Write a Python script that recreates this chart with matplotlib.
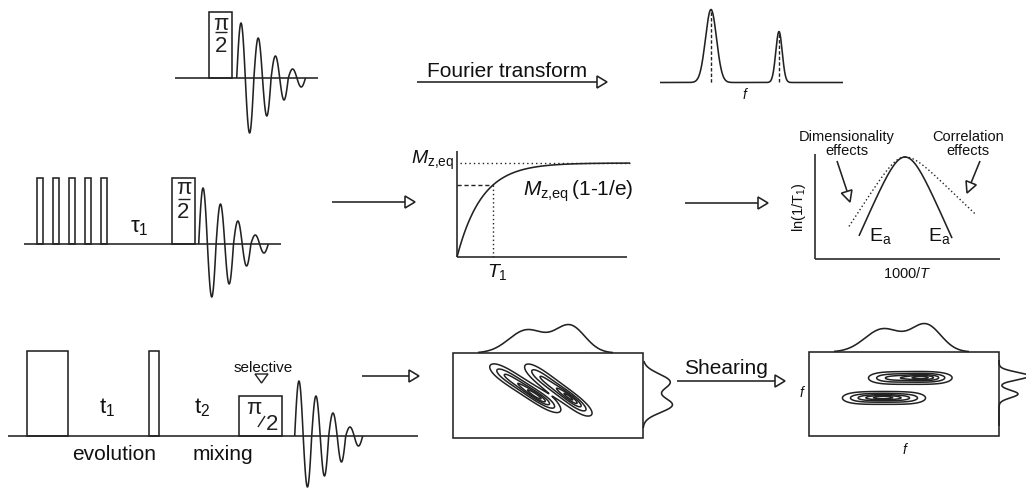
import matplotlib.pyplot as plt
import numpy as np
from matplotlib.patches import Rectangle, Polygon

plt.rcParams['font.family'] = ['Liberation Sans', 'DejaVu Sans']
plt.rcParams['mathtext.fontset'] = 'custom'
plt.rcParams['mathtext.rm'] = 'Liberation Sans'
plt.rcParams['mathtext.it'] = 'Liberation Sans:italic'
plt.rcParams['mathtext.bf'] = 'Liberation Sans:bold'

INK = '#222222'
LW = 1.15

# --- FID half-cycle amplitudes (px) for the three pulse sequences ---
fid_lobes_top = [55, 55, 40, 38, 22, 22, 9, 9]
fid_lobes_t1 = [56, 53, 40, 40, 23, 22, 9, 9]
fid_lobes_2d = [55, 51, 40, 40, 23, 26, 9, 10]
saturation_pulses_x = [37, 53, 69, 85, 101]

# --- 1D spectrum after Fourier transform ---
peak_pos = [711, 779]
peak_height = [73, 51]
peak_width = [5.5, 3.2]

# --- T1 recovery curve ---
mz_eq = 94
t1_tau = 24.8

# --- ln(1/T1) vs 1000/T (BPP-like) ---
bpp_peak = (905, 158)
bpp_scale = 0.064
bpp_amp_solid = 35
bpp_amp_dotted = (24, 15)  # left / right side

# --- 2D exchange spectra ---
# (cx, cy, sigma_long, sigma_short, angle_deg, amp, long-axis exponent)
peaks_raw = [
    (525, 389, 30, 3.8, 33, 0.75, 4), (536, 397, 12, 2.4, 33, 0.3, 2),
    (558, 391, 30, 3.8, 37, 0.7, 4), (570, 398, 11, 2.2, 37, 0.35, 2),
]
peaks_sheared = [
    (910, 379, 30, 3.3, 0, 0.75, 4), (922, 378, 12, 2.2, 0, 0.3, 2),
    (884, 399, 30, 3.3, 0, 0.75, 4), (883, 398, 12, 2.2, 0, 0.3, 2),
]
contour_levels = [0.12, 0.35, 0.6, 0.8, 0.95]
proj_top = [(527, 23, 18), (570, 27, 15)]
proj_right_raw = [(383, 27, 8), (406, 29, 7.5)]
proj_right_sheared = [(377, 30, 3.8), (395, 19, 3.8)]


def line(ax, xs, ys, **kw):
    kw.setdefault('color', INK)
    kw.setdefault('lw', LW)
    ax.plot(xs, ys, solid_capstyle='butt', **kw)


def pulse(ax, x0, x1, top, base):
    ax.add_patch(Rectangle((x0, top), x1 - x0, base - top, fill=False,
                           ec=INK, lw=LW))


def fid(ax, x0, base, half, lobes):
    for k, a in enumerate(lobes):
        xs = np.linspace(x0 + k * half, x0 + (k + 1) * half, 30)
        sign = 1 if k % 2 == 0 else -1
        ys = base - sign * a * np.sin(np.pi * (xs - xs[0]) / half)
        line(ax, xs, ys)


def head(ax, tip, direction, length=10, half=6):
    d = np.array(direction, float)
    d /= np.hypot(*d)
    n = np.array([-d[1], d[0]])
    tip = np.array(tip, float)
    back = tip - d * length
    pts = [tip, back + n * half, back - n * half]
    ax.add_patch(Polygon(pts, closed=True, fc='white', ec=INK, lw=LW, zorder=3))


def arrow(ax, x0, x1, y):
    line(ax, [x0, x1 - 10], [y, y])
    head(ax, (x1, y), (1, 0))


def pi_half(ax, x, y_pi, y_bar, y_two):
    ax.text(x, y_pi, 'π', ha='center', va='center', fontsize=16, color=INK)
    line(ax, [x - 6, x + 6], [y_bar, y_bar], lw=1.0)
    ax.text(x, y_two, '2', ha='center', va='center', fontsize=16, color=INK)


def field(X, Y, peaks):
    Z = np.zeros_like(X)
    for cx, cy, sl, ss, ang, amp, p in peaks:
        t = np.radians(ang)
        u = (X - cx) * np.cos(t) + (Y - cy) * np.sin(t)
        v = -(X - cx) * np.sin(t) + (Y - cy) * np.cos(t)
        Z += amp * np.exp(-0.5 * np.abs(u / sl) ** p - 0.5 * (v / ss) ** 2)
    return Z


def gauss_sum(s, comps):
    return sum(a * np.exp(-0.5 * ((s - c) / w) ** 2) for c, a, w in comps)


fig = plt.figure(figsize=(10.26, 4.89), dpi=100)
ax = fig.add_axes([0, 0, 1, 1])
ax.set_xlim(0, 1026)
ax.set_ylim(489, 0)
ax.axis('off')

# ===== row 1: pulse-acquire and FT =====
line(ax, [175, 318], [79, 79])
pulse(ax, 209, 232, 13, 79)
pi_half(ax, 221, 24, 33, 47)
fid(ax, 236.7, 79, 8.6, fid_lobes_top)

arrow(ax, 417, 607, 83)
ax.text(427, 77, 'Fourier transform', ha='left', va='baseline', fontsize=15, color='#111')

xs = np.linspace(660, 843, 800)
spec = sum(h * np.exp(-0.5 * ((xs - p) / w) ** 2)
           for p, h, w in zip(peak_pos, peak_height, peak_width))
line(ax, xs, 83.5 - spec)
for p, h in zip(peak_pos, peak_height):
    line(ax, [p, p], [83.5 - h + 2, 83.5], ls=(0, (2.5, 1.5)), lw=1.0)
ax.text(744, 95, 'f', ha='center', va='center', fontsize=10, style='italic', color='#111')

# ===== row 2: saturation recovery =====
line(ax, [24, 281], [245, 245])
for x in saturation_pulses_x:
    pulse(ax, x, x + 6, 179, 245)
pulse(ax, 172, 195, 179, 245)
pi_half(ax, 183.5, 189, 200, 212)
ax.text(130, 232, 'τ$_1$', ha='left', va='baseline', fontsize=16, color='#111')
fid(ax, 198.7, 245, 8.7, fid_lobes_t1)

arrow(ax, 332, 415, 203)

# T1 plot
line(ax, [457, 457], [152, 258])
line(ax, [457, 627], [258, 258])
xs = np.linspace(457, 630, 300)
line(ax, xs, 258 - mz_eq * (1 - np.exp(-(xs - 457) / t1_tau)))
line(ax, [460, 630], [164, 164], ls=(0, (1, 2.2)), lw=1.0)
x_t1 = 493
y_t1 = 258 - mz_eq * (1 - np.exp(-(x_t1 - 457) / t1_tau))
line(ax, [457, x_t1], [y_t1, y_t1], ls=(0, (3, 2)), lw=1.0)
line(ax, [x_t1, x_t1], [y_t1, 258], ls=(0, (1, 2)), lw=1.0)
ax.text(411, 164, r'$\mathit{M}_{\mathrm{z{,}eq}}$', ha='left', va='baseline',
        fontsize=14, color='#111')
ax.text(523, 196, r'$\mathit{M}_{\mathrm{z{,}eq}}\,$(1-1/e)', ha='left', va='baseline',
        fontsize=15, color='#111')
ax.text(487, 277, r'$\mathit{T}_{\mathit{1}}$', ha='left', va='baseline',
        fontsize=14, color='#111')

arrow(ax, 685, 768, 204)

# ln(1/T1) vs 1000/T
line(ax, [815, 815], [155, 260])
line(ax, [815, 1000], [260, 260])


def bpp_drop(x):
    u = bpp_scale * (x - bpp_peak[0])
    return np.logaddexp(0, 2 * u) - u - np.log(2)


xs = np.linspace(859, 952, 300)
line(ax, xs, bpp_peak[1] + bpp_amp_solid * bpp_drop(xs))
xl = np.linspace(849, bpp_peak[0], 200)
line(ax, xl, bpp_peak[1] + bpp_amp_dotted[0] * bpp_drop(xl), ls=(0, (1, 1.8)), lw=1.0)
xr = np.linspace(bpp_peak[0], 976, 200)
line(ax, xr, bpp_peak[1] + bpp_amp_dotted[1] * bpp_drop(xr), ls=(0, (1, 1.8)), lw=1.0)
ax.text(869, 241, r'E$_\mathrm{a}$', ha='left', va='baseline', fontsize=14, color='#111')
ax.text(928, 241, r'E$_\mathrm{a}$', ha='left', va='baseline', fontsize=14, color='#111')
ax.text(799, 207, r'ln(1/T$_1$)', ha='center', va='center', rotation=90,
        fontsize=10.5, color='#111')
ax.text(907, 273, r'1000/$\mathit{T}$', ha='center', va='center', fontsize=10.5, color='#111')

ax.text(847, 137, 'Dimensionality', ha='center', va='center', fontsize=10.5, color='#111')
ax.text(847, 151, 'effects', ha='center', va='center', fontsize=10.5, color='#111')
ax.text(968, 137, 'Correlation', ha='center', va='center', fontsize=10.5, color='#111')
ax.text(968, 151, 'effects', ha='center', va='center', fontsize=10.5, color='#111')
line(ax, [837, 847], [162, 192])
head(ax, (850, 203), (13, 41), length=11, half=5.5)
line(ax, [980, 971], [162, 184])
head(ax, (967, 194), (-13, 32), length=11, half=5.5)

# ===== row 3: 2D exchange =====
line(ax, [8, 418], [437, 437])
pulse(ax, 27, 68, 352, 437)
pulse(ax, 149, 159, 352, 437)
pulse(ax, 239, 282, 397, 437)
ax.text(254, 409, 'π', ha='center', va='center', fontsize=16, color=INK)
line(ax, [258, 265], [428, 417], lw=1.0)
ax.text(272, 425, '2', ha='center', va='center', fontsize=16, color=INK)
ax.text(263, 372, 'selective', ha='center', va='baseline', fontsize=11, color='#111')
ax.add_patch(Polygon([(255, 375), (268, 375), (261.5, 384)], closed=True,
                     fc='white', ec=INK, lw=1.0))
ax.text(99, 413, 't$_1$', ha='left', va='baseline', fontsize=16, color='#111')
ax.text(194, 413, 't$_2$', ha='left', va='baseline', fontsize=16, color='#111')
ax.text(114, 460, 'evolution', ha='center', va='baseline', fontsize=15, color='#111')
ax.text(223, 460, 'mixing', ha='center', va='baseline', fontsize=15, color='#111')
fid(ax, 294.7, 437, 8.5, fid_lobes_2d)

arrow(ax, 362, 419, 377)


def spectrum_2d(x0, x1, y0, y1, peaks, right_proj):
    ax.add_patch(Rectangle((x0, y0), x1 - x0, y1 - y0, fill=False, ec=INK, lw=LW))
    gx = np.linspace(x0, x1, 500)
    gy = np.linspace(y0, y1, 250)
    X, Y = np.meshgrid(gx, gy)
    ax.contour(X, Y, field(X, Y, peaks), levels=contour_levels,
               colors=INK, linewidths=1.1)
    tx = np.linspace(x0 + 25, x0 + 160, 400)
    line(ax, tx, y0 - gauss_sum(tx - (x0 - 453), proj_top))
    ry = np.linspace(y0 + 8, y1 - 10, 300)
    line(ax, x1 + gauss_sum(ry, right_proj), ry)


spectrum_2d(453, 643, 354, 439, peaks_raw, proj_right_raw)

arrow(ax, 677, 785, 382)
ax.text(684, 374, 'Shearing', ha='left', va='baseline', fontsize=15, color='#111')

spectrum_2d(809, 999, 353, 437, peaks_sheared, proj_right_sheared)
ax.text(801, 393, 'f', ha='center', va='center', fontsize=10, style='italic', color='#111')
ax.text(904, 450, 'f', ha='center', va='center', fontsize=10, style='italic', color='#111')

fig.savefig('out.png', dpi=100, facecolor='white')
